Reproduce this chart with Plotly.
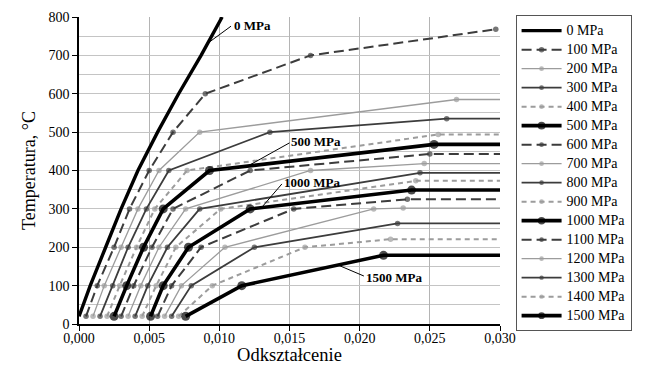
import plotly.graph_objects as go

# ---- data (strain, temperature) ----
labels = ["0 MPa", "100 MPa", "200 MPa", "300 MPa", "400 MPa", "500 MPa", "600 MPa", "700 MPa",
          "800 MPa", "900 MPa", "1000 MPa", "1100 MPa", "1200 MPa", "1300 MPa", "1400 MPa", "1500 MPa"]

eps_0 = [0.0, 0.0008, 0.0019, 0.0030, 0.0042, 0.0056, 0.0071, 0.0087, 0.0102]
T_0 = [20, 100, 200, 300, 400, 500, 600, 700, 800]

eps_100 = [0.0005, 0.0013, 0.0025, 0.0036, 0.0050, 0.0067, 0.0090, 0.0165, 0.0297]
T_100 = [20, 100, 200, 300, 400, 500, 600, 700, 768]

eps_200 = [0.0010, 0.0018, 0.0030, 0.0042, 0.0057, 0.0086, 0.0269, 0.030]
T_200 = [20, 100, 200, 300, 400, 500, 585, 585]

eps_300 = [0.0015, 0.0024, 0.0035, 0.0048, 0.0064, 0.0136, 0.0262, 0.030]
T_300 = [20, 100, 200, 300, 400, 500, 535, 535]

eps_400 = [0.0020, 0.0029, 0.0041, 0.0054, 0.0077, 0.0256, 0.030]
T_400 = [20, 100, 200, 300, 400, 494, 494]

eps_500 = [0.0025, 0.0034, 0.0046, 0.0060, 0.0093, 0.0253, 0.030]
T_500 = [20, 100, 200, 300, 400, 468, 468]

eps_600 = [0.0030, 0.0039, 0.0052, 0.0067, 0.0122, 0.0250, 0.030]
T_600 = [20, 100, 200, 300, 400, 443, 443]

eps_700 = [0.0035, 0.0044, 0.0057, 0.0076, 0.0165, 0.0246, 0.030]
T_700 = [20, 100, 200, 300, 400, 418, 418]

eps_800 = [0.0040, 0.0049, 0.0063, 0.0086, 0.0243, 0.030]
T_800 = [20, 100, 200, 300, 394, 394]

eps_900 = [0.0045, 0.0055, 0.0069, 0.0101, 0.0240, 0.030]
T_900 = [20, 100, 200, 300, 373, 373]

eps_1000 = [0.0051, 0.0060, 0.0078, 0.0122, 0.0237, 0.030]
T_1000 = [20, 100, 200, 300, 349, 349]

eps_1100 = [0.0056, 0.0066, 0.0087, 0.0153, 0.0234, 0.030]
T_1100 = [20, 100, 200, 300, 325, 325]

eps_1200 = [0.0061, 0.0073, 0.0104, 0.0210, 0.0231, 0.030]
T_1200 = [20, 100, 200, 300, 302, 302]

eps_1300 = [0.0066, 0.0080, 0.0125, 0.0227, 0.030]
T_1300 = [20, 100, 200, 262, 262]

eps_1400 = [0.0071, 0.0095, 0.0161, 0.0222, 0.030]
T_1400 = [20, 100, 200, 221, 221]

eps_1500 = [0.0076, 0.0116, 0.0217, 0.030]
T_1500 = [20, 100, 179, 179]

series_eps = [eps_0, eps_100, eps_200, eps_300, eps_400, eps_500, eps_600, eps_700,
              eps_800, eps_900, eps_1000, eps_1100, eps_1200, eps_1300, eps_1400, eps_1500]
series_T = [T_0, T_100, T_200, T_300, T_400, T_500, T_600, T_700,
            T_800, T_900, T_1000, T_1100, T_1200, T_1300, T_1400, T_1500]

# ---- styles (cycle of five) ----
DARK = "#3c3c3c"
GREY = "#9c9c9c"
styles = [
    dict(color="#000000", width=3.6, dash="solid", msize=9, mcolor="#000000"),   # bold black
    dict(color=DARK, width=2.0, dash="10px,5px", msize=5.5, mcolor=DARK),         # dark long dash
    dict(color=GREY, width=1.3, dash="solid", msize=5.5, mcolor=GREY),            # light grey
    dict(color=DARK, width=1.8, dash="solid", msize=5.5, mcolor=DARK),            # dark solid
    dict(color=GREY, width=2.0, dash="5px,4px", msize=5.5, mcolor=GREY),          # grey short dash
]

fig = go.Figure()
for i, (lab, xs, ys) in enumerate(zip(labels, series_eps, series_T)):
    st = styles[i % 5]
    n = len(xs)
    legend_name = '<span style="font-size:14px">%s</span>' % lab
    if i == 0:
        fig.add_trace(go.Scatter(x=xs, y=ys, name=legend_name, mode="lines",
                                 line=dict(color="#000000", width=3.4)))
        continue
    capped = xs[-1] >= 0.0299
    sizes = [st["msize"]] * n
    if capped:
        sizes[-1] = 0
    fig.add_trace(go.Scatter(
        x=xs, y=ys, name=legend_name, mode="lines+markers",
        line=dict(color=st["color"], width=st["width"], dash=st["dash"]),
        marker=dict(size=sizes, color=st["mcolor"], line=dict(width=0)),
    ))

SERIF = "Liberation Serif, Times New Roman, serif"

# labels with leader lines
ann = [
    ("0 MPa", 0.01097, 779, 0.01083, 776, 0.0093, 735),
    ("500 MPa", 0.01503, 475, 0.01500, 472, 0.0120, 411),
    ("1000 MPa", 0.01455, 370, 0.01446, 365, 0.0130, 303),
    ("1500 MPa", 0.02037, 120, 0.02030, 125, 0.0185, 153),
]
for txt, tx, ty, x0, y0, x1, y1 in ann:
    fig.add_annotation(x=tx, y=ty, text="<b>%s</b>" % txt, showarrow=False,
                       xanchor="left", yanchor="middle", borderpad=0,
                       font=dict(family=SERIF, size=13, color="#000000"))
    fig.add_shape(type="line", x0=x0, y0=y0, x1=x1, y1=y1,
                  line=dict(color="#000000", width=1))

fig.update_layout(
    width=653, height=365,
    margin=dict(l=79, r=153, t=17, b=41),
    plot_bgcolor="white", paper_bgcolor="white",
    separators=", ",
    font=dict(family=SERIF, size=12, color="#000000"),
    legend=dict(x=1.037, y=1.006, xanchor="left", yanchor="top",
                bgcolor="white", bordercolor="#555555", borderwidth=1,
                font=dict(family=SERIF, size=12.0), itemwidth=40,
                tracegroupgap=0, maxheight=400),
    showlegend=True,
)
fig.update_xaxes(range=[0, 0.030], dtick=0.005, tick0=0, tickformat=".3f",
                 automargin=False,
                 showgrid=True, gridcolor="#b4b4b4", gridwidth=1,
                 showline=True, linecolor="#000000", linewidth=1.5,
                 ticks="outside", ticklen=5, tickcolor="#000000",
                 ticklabelstandoff=-5,
                 tickfont=dict(family=SERIF, size=14),
                 zeroline=False,
                 title=dict(text="Odkształcenie", font=dict(family=SERIF, size=18.5), standoff=0))
fig.update_yaxes(range=[0, 800], dtick=100, tick0=0,
                 automargin=False,
                 showgrid=True, gridcolor="#c4c4c4", gridwidth=1,
                 minor=dict(dtick=50, showgrid=True, gridcolor="#c4c4c4", gridwidth=1),
                 showline=True, linecolor="#000000", linewidth=1.5,
                 ticks="outside", ticklen=5, tickcolor="#000000",
                 tickfont=dict(family=SERIF, size=14),
                 zeroline=False,
                 title=dict(text="Temperatura, °C", font=dict(family=SERIF, size=18), standoff=8))

fig.write_html("out.html", config={"displayModeBar": False},
               post_script="document.body.style.margin='0';")
